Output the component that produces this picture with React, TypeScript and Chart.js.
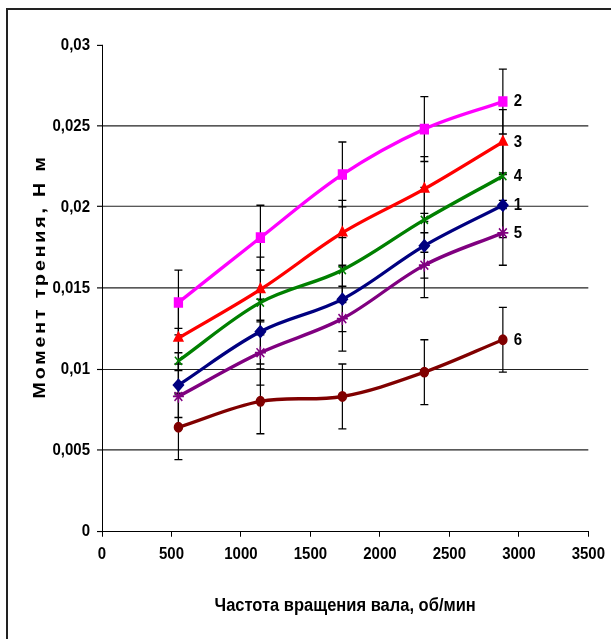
import React, { useEffect, useRef } from "react";
import { Chart, registerables } from "chart.js";

Chart.register(...registerables);

// Shaft speed, rpm
const RPM = [550, 1140, 1730, 2320, 2885];

// Friction torque, N·m, for each test series
const SERIES_1 = [0.009, 0.0123, 0.0143, 0.0176, 0.0201];
const SERIES_2 = [0.0141, 0.0181, 0.022, 0.0248, 0.0265];
const SERIES_3 = [0.0119, 0.0149, 0.0184, 0.0211, 0.024];
const SERIES_4 = [0.0105, 0.0141, 0.0161, 0.0192, 0.0219];
const SERIES_5 = [0.0083, 0.011, 0.0131, 0.0164, 0.0184];
const SERIES_6 = [0.0064, 0.008, 0.0083, 0.0098, 0.0118];

// Fixed error margin, N·m
const ERROR_MARGIN = 0.002;

const X_TICK_LABELS = ["0", "500", "1000", "1500", "2000", "2500", "3000", "3500"];
const Y_TICK_LABELS = ["0", "0,005", "0,01", "0,015", "0,02", "0,025", "0,03"];
const X_TITLE = "Частота вращения вала, об/мин";
const Y_TITLE = "Момент трения, Н м";

const FONT_FAMILY = "'Liberation Sans', Arial, sans-serif";

// The chart is laid out on a shorter canvas and drawn with a vertical stretch
const PAGE_W = 611;
const PAGE_H = 639;
const LAYOUT_H = 556;
const STRETCH_Y = PAGE_H / LAYOUT_H;

type SeriesDef = {
  label: string;
  data: number[];
  color: string;
  pointStyle: string;
  radius: number;
};

const SERIES: SeriesDef[] = [
  { label: "2", data: SERIES_2, color: "#FF00FF", pointStyle: "rect", radius: 5.5 },
  { label: "3", data: SERIES_3, color: "#FF0000", pointStyle: "triangle", radius: 5 },
  { label: "4", data: SERIES_4, color: "#008000", pointStyle: "crossRot", radius: 5 },
  { label: "1", data: SERIES_1, color: "#000080", pointStyle: "rectRot", radius: 5 },
  { label: "5", data: SERIES_5, color: "#800080", pointStyle: "star", radius: 5.5 },
  { label: "6", data: SERIES_6, color: "#800000", pointStyle: "circle", radius: 4 },
];

// Vertical error bars with caps, drawn beneath the lines and markers
const errorBarsPlugin = {
  id: "errorBars",
  beforeDatasetsDraw(chart: any) {
    const { ctx } = chart;
    const yScale = chart.scales.y;
    ctx.save();
    ctx.strokeStyle = "#000";
    ctx.lineWidth = 1.2;
    chart.data.datasets.forEach((ds: any, di: number) => {
      const meta = chart.getDatasetMeta(di);
      ds.data.forEach((pt: any, i: number) => {
        const el = meta.data[i];
        if (!el) return;
        const x = el.x;
        const yTop = yScale.getPixelForValue(pt.y + ERROR_MARGIN);
        const yBot = yScale.getPixelForValue(pt.y - ERROR_MARGIN);
        const cap = 4;
        ctx.beginPath();
        ctx.moveTo(x, yTop);
        ctx.lineTo(x, yBot);
        ctx.moveTo(x - cap, yTop);
        ctx.lineTo(x + cap, yTop);
        ctx.moveTo(x - cap, yBot);
        ctx.lineTo(x + cap, yBot);
        ctx.stroke();
      });
    });
    ctx.restore();
  },
};

// Series numbers next to the last point of each curve
const endLabelsPlugin = {
  id: "endLabels",
  afterDatasetsDraw(chart: any) {
    const { ctx } = chart;
    ctx.save();
    ctx.fillStyle = "#000";
    ctx.font = `bold 15px ${FONT_FAMILY}`;
    ctx.textAlign = "left";
    ctx.textBaseline = "middle";
    chart.data.datasets.forEach((ds: any, di: number) => {
      const meta = chart.getDatasetMeta(di);
      const last = meta.data[meta.data.length - 1];
      if (!last) return;
      ctx.fillText(ds.label, last.x + 11, last.y);
    });
    ctx.restore();
  },
};

// Letter-spaced vertical axis title
const yTitlePlugin = {
  id: "yTitle",
  afterDraw(chart: any) {
    const { ctx, chartArea } = chart;
    ctx.save();
    ctx.fillStyle = "#000";
    ctx.font = `bold 17px ${FONT_FAMILY}`;
    (ctx as any).letterSpacing = "2.5px";
    ctx.textAlign = "center";
    ctx.textBaseline = "middle";
    ctx.translate(40, (chartArea.top + chartArea.bottom) / 2 - 10);
    ctx.rotate(-Math.PI / 2);
    ctx.fillText(Y_TITLE, 0, 0);
    ctx.restore();
  },
};

// Applies the vertical stretch to everything the chart draws
const stretchPlugin = {
  id: "stretch",
  beforeDraw(chart: any) {
    chart.ctx.save();
    chart.ctx.setTransform(1, 0, 0, STRETCH_Y, 0, 0);
  },
  afterDraw(chart: any) {
    chart.ctx.restore();
  },
};

export default function App() {
  const canvasRef = useRef<HTMLCanvasElement | null>(null);

  useEffect(() => {
    const canvas = canvasRef.current;
    if (!canvas) return;
    const tickFont = { family: FONT_FAMILY, size: 15, weight: "bold" as const };

    const chart = new Chart(canvas, {
      type: "line",
      data: {
        datasets: SERIES.map((s) => ({
          label: s.label,
          data: s.data.map((v, i) => ({ x: RPM[i], y: v })),
          borderColor: s.color,
          backgroundColor: s.color,
          pointBackgroundColor: s.color,
          pointBorderColor: s.color,
          pointStyle: s.pointStyle as any,
          pointRadius: s.radius,
          pointBorderWidth: 1.5,
          borderWidth: 3,
          tension: 0.35,
          fill: false,
        })),
      },
      options: {
        responsive: false,
        devicePixelRatio: 1,
        animation: false,
        events: [],
        layout: { padding: { left: 0, right: 21, top: 39, bottom: 0 } },
        plugins: {
          legend: { display: false },
          tooltip: { enabled: false },
        },
        scales: {
          x: {
            type: "linear",
            min: 0,
            max: 3500,
            ticks: {
              stepSize: 500,
              font: tickFont,
              color: "#000",
              padding: 6,
              maxRotation: 0,
              callback: (_v: any, i: number) => X_TICK_LABELS[i],
            },
            grid: {
              drawOnChartArea: false,
              drawTicks: true,
              tickLength: 5,
              tickColor: "#000",
            },
            border: { color: "#000", width: 1 },
            title: {
              display: true,
              text: X_TITLE,
              color: "#000",
              font: { family: FONT_FAMILY, size: 16.5, weight: "bold" },
              padding: { top: 0, bottom: 19 },
            },
            afterFit: (scale: any) => {
              scale.height = 94;
            },
          },
          y: {
            type: "linear",
            min: 0,
            max: 0.03,
            ticks: {
              stepSize: 0.005,
              font: tickFont,
              color: "#000",
              padding: 7,
              callback: (_v: any, i: number) => Y_TICK_LABELS[i],
            },
            grid: {
              color: (c: any) =>
                c.tick && c.tick.value >= 0.0299 ? "rgba(0,0,0,0)" : "#222",
              lineWidth: 1,
              tickLength: 5,
              tickColor: "#000",
            },
            border: { color: "#000", width: 1 },
            afterFit: (scale: any) => {
              scale.width = 102;
            },
          },
        },
      },
      plugins: [errorBarsPlugin, endLabelsPlugin, yTitlePlugin, stretchPlugin],
    });

    // Enlarge the bitmap to the full page height and redraw with the stretch
    canvas.height = PAGE_H;
    canvas.style.height = `${PAGE_H}px`;
    chart.draw();

    return () => chart.destroy();
  }, []);

  return (
    <div
      style={{
        position: "fixed",
        left: 0,
        top: 0,
        width: PAGE_W,
        height: PAGE_H,
        background: "#fff",
        overflow: "hidden",
      }}
    >
      <canvas ref={canvasRef} width={PAGE_W} height={LAYOUT_H} style={{ display: "block" }} />
      <div
        style={{
          position: "absolute",
          left: 6,
          top: 8,
          width: PAGE_W - 6,
          height: PAGE_H - 8,
          borderLeft: "2px solid #222",
          borderTop: "2px solid #222",
          boxSizing: "border-box",
          pointerEvents: "none",
        }}
      />
    </div>
  );
}
